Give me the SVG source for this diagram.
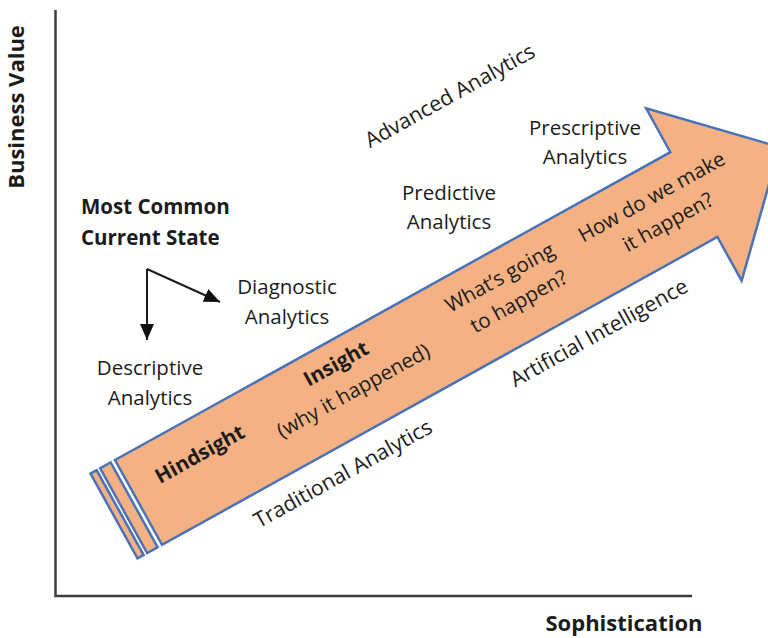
<svg xmlns="http://www.w3.org/2000/svg" width="768" height="638" viewBox="0 0 768 638">
  <style>
    text { font-family: "Open Sans", "Liberation Sans", sans-serif; font-size: 20.5px; fill: #1c1c1c; }
    .b { font-weight: bold; }
    .axis-title { font-weight: bold; font-size: 22px; }
    .mid { text-anchor: middle; }
    .tilt { font-size: 21.3px; }
    .axis { stroke: #3c3c3c; stroke-width: 2.5; fill: none; }
    .band { fill: #F4B183; stroke: #4A72B8; stroke-width: 2.5; stroke-linejoin: miter; }
    .link { stroke: #1c1c1c; stroke-width: 2; fill: none; }
  </style>
  <defs>
    <marker id="tri" viewBox="0 0 16 14" refX="16" refY="7" markerWidth="16" markerHeight="14" markerUnits="userSpaceOnUse" orient="auto">
      <path d="M0,0 L16,7 L0,14 Z" fill="#111"/>
    </marker>
  </defs>
  <rect width="768" height="638" fill="#ffffff"/>

  <!-- axes -->
  <g id="axes">
    <path class="axis" d="M55.5,10 L55.5,596 L692,596"/>
    <text class="axis-title mid" transform="translate(24,107) rotate(-90)">Business Value</text>
    <text class="axis-title mid" x="624" y="631">Sophistication</text>
  </g>

  <!-- big progression arrow, drawn in its own tilted frame -->
  <g id="progress-arrow" transform="translate(115,460) rotate(-29)">
    <rect class="band" x="-28" y="0" width="7" height="97"/>
    <rect class="band" x="-17" y="0" width="12" height="97"/>
    <path class="band" d="M0,0 L635,0 L635,-50 L733,48.5 L635,147 L635,97 L0,97 Z"/>
  </g>

  <g id="hindsight" transform="translate(115,460) rotate(-29)">
    <text class="b mid" x="77" y="43">Hindsight</text>
  </g>
  <g id="insight" transform="translate(115,460) rotate(-29)">
    <text class="b mid" x="240" y="30">Insight</text>
    <text class="mid" x="242" y="62">(why it happened)</text>
  </g>
  <g id="foresight" transform="translate(115,460) rotate(-29)">
    <text class="mid" x="425" y="34">What’s going</text>
    <text class="mid" x="430" y="64">to happen?</text>
  </g>
  <g id="optimisation" transform="translate(115,460) rotate(-29)">
    <text class="mid" x="597" y="37">How do we make</text>
    <text class="mid" x="599" y="67">it happen?</text>
  </g>

  <!-- tilted region labels -->
  <g id="advanced-analytics" transform="translate(450,96) rotate(-29)">
    <text class="mid tilt" y="7">Advanced Analytics</text>
  </g>
  <g id="traditional-analytics" transform="translate(343,474) rotate(-29)">
    <text class="mid tilt" y="7">Traditional Analytics</text>
  </g>
  <g id="artificial-intelligence" transform="translate(599,333) rotate(-29)">
    <text class="mid tilt" y="7">Artificial Intelligence</text>
  </g>

  <!-- stage labels -->
  <g id="current-state">
    <text class="b" x="81" y="214">Most Common</text>
    <text class="b" x="81" y="245">Current State</text>
  </g>
  <g id="descriptive">
    <text class="mid" x="150" y="375">Descriptive</text>
    <text class="mid" x="150" y="405">Analytics</text>
  </g>
  <g id="diagnostic">
    <text class="mid" x="287" y="294">Diagnostic</text>
    <text class="mid" x="287" y="324">Analytics</text>
  </g>
  <g id="predictive">
    <text class="mid" x="449" y="200">Predictive</text>
    <text class="mid" x="449" y="229">Analytics</text>
  </g>
  <g id="prescriptive">
    <text class="mid" x="585" y="135">Prescriptive</text>
    <text class="mid" x="585" y="164">Analytics</text>
  </g>

  <!-- connectors from the current-state label -->
  <g id="connectors">
    <path class="link" d="M147,269 L147,340" marker-end="url(#tri)"/>
    <path class="link" d="M147,269 L220,302" marker-end="url(#tri)"/>
  </g>
</svg>
